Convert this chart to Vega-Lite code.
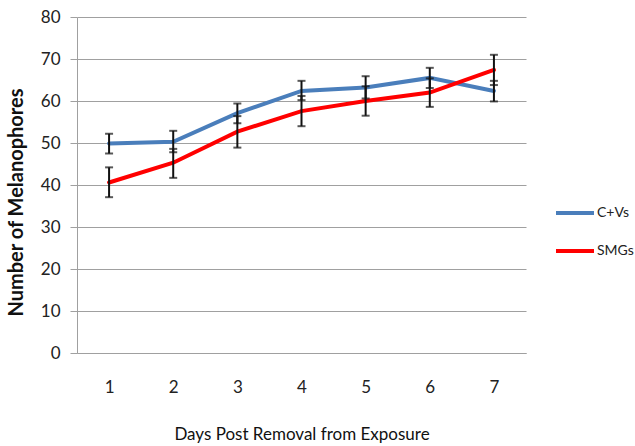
{
  "$schema": "https://vega.github.io/schema/vega-lite/v6.json",
  "width": 449,
  "height": 336,
  "autosize": {"type": "none"},
  "padding": {"left": 77, "top": 17, "right": 109, "bottom": 93},
  "background": "white",
  "config": {
    "view": {"stroke": null},
    "font": "Lato",
    "axis": {"labelFont": "Lato", "titleFont": "Lato", "labelColor": "#222", "titleColor": "#111"}
  },
  "data": {
    "values": [
      {"day": "1", "group": "C+Vs", "mean": 49.9, "lo": 47.5, "hi": 52.2},
      {"day": "2", "group": "C+Vs", "mean": 50.3, "lo": 47.8, "hi": 52.9},
      {"day": "3", "group": "C+Vs", "mean": 57.1, "lo": 54.7, "hi": 59.4},
      {"day": "4", "group": "C+Vs", "mean": 62.4, "lo": 60.2, "hi": 64.8},
      {"day": "5", "group": "C+Vs", "mean": 63.2, "lo": 60.6, "hi": 65.9},
      {"day": "6", "group": "C+Vs", "mean": 65.5, "lo": 63.1, "hi": 67.9},
      {"day": "7", "group": "C+Vs", "mean": 62.4, "lo": 59.9, "hi": 64.8},
      {"day": "1", "group": "SMGs", "mean": 40.6, "lo": 37.1, "hi": 44.2},
      {"day": "2", "group": "SMGs", "mean": 45.3, "lo": 41.7, "hi": 48.6},
      {"day": "3", "group": "SMGs", "mean": 52.7, "lo": 48.9, "hi": 56.4},
      {"day": "4", "group": "SMGs", "mean": 57.6, "lo": 54.0, "hi": 61.2},
      {"day": "5", "group": "SMGs", "mean": 60.0, "lo": 56.5, "hi": 63.5},
      {"day": "6", "group": "SMGs", "mean": 62.0, "lo": 58.6, "hi": 65.4},
      {"day": "7", "group": "SMGs", "mean": 67.4, "lo": 63.8, "hi": 71.0}
    ]
  },
  "layer": [
    {
      "mark": {"type": "line", "strokeWidth": 4, "strokeCap": "round"},
      "encoding": {
        "x": {
          "field": "day", "type": "ordinal", "sort": ["1","2","3","4","5","6","7"],
          "scale": {"type": "point", "padding": 0.5},
          "axis": {
            "title": "Days Post Removal from Exposure",
            "titleFontSize": 17, "titleFontWeight": "normal", "titlePadding": 31,
            "labelFontSize": 17, "labelAngle": 0, "labelPadding": 26,
            "ticks": false, "domain": true, "domainColor": "#a0a0a0", "grid": false
          }
        },
        "y": {
          "field": "mean", "type": "quantitative",
          "scale": {"domain": [0, 80], "nice": false},
          "axis": {
            "title": "Number of Melanophores",
            "titleFontSize": 20, "titleFontWeight": "bold", "titlePadding": 14, "titleY": 185,
            "values": [0,10,20,30,40,50,60,70,80],
            "labelFontSize": 17, "labelPadding": 10,
            "tickSize": 7, "tickColor": "#a0a0a0",
            "domainColor": "#a0a0a0", "gridColor": "#a0a0a0", "gridWidth": 1.2
          }
        },
        "color": {
          "field": "group", "type": "nominal",
          "scale": {"domain": ["C+Vs", "SMGs"], "range": ["#4A7EBB", "#FF0000"]},
          "legend": {
            "title": null, "orient": "none", "legendX": 477, "legendY": 175,
            "symbolType": "stroke", "symbolSize": 1444, "symbolStrokeWidth": 4,
            "labelFontSize": 14, "labelFont": "Lato", "labelColor": "#222",
            "rowPadding": 9, "labelOffset": 1
          }
        }
      }
    },
    {
      "mark": {"type": "errorbar", "ticks": {"size": 8, "thickness": 2, "color": "#111"}, "rule": {"strokeWidth": 2, "color": "#111"}},
      "encoding": {
        "x": {"field": "day", "type": "ordinal", "sort": ["1","2","3","4","5","6","7"]},
        "y": {"field": "lo", "type": "quantitative", "title": "Number of Melanophores"},
        "y2": {"field": "hi"},
        "detail": {"field": "group"}
      }
    }
  ]
}
